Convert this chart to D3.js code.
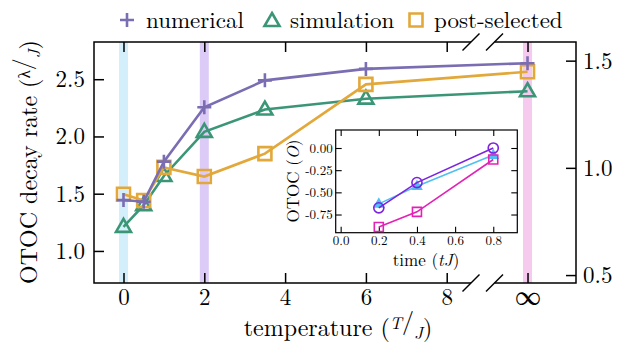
<!DOCTYPE html>
<html><head><meta charset="utf-8">
<script src="https://cdn.jsdelivr.net/npm/d3@7"></script>
<style>
body{margin:0;background:#fff}
svg{display:block}
</style>
</head><body>
<svg id="c" width="628" height="349"></svg>
<script>
// ---------- data ----------
const temps = [0, 0.5, 1, 2, 3.5, 6, "inf"];
const numerical = [1.445, 1.43, 1.78, 2.255, 2.49, 2.59, 2.64];
const simulation = [1.21, 1.40, 1.655, 2.04, 2.235, 2.33, 2.395];
const postSelected = [1.495, 1.44, 1.73, 1.65, 1.85, 2.455, 2.565];
const xTicks = [0, 2, 4, 6, 8, "inf"];
const xTickLabels = ["0", "2", "4", "6", "8", "\u221E"];
const leftTicks = [1.0, 1.5, 2.0, 2.5];
const rightTicks = [0.5, 1.0, 1.5];
const bandTemps = [0, 2, "inf"];
const seriesNames = ["numerical", "simulation", "post-selected"];

const insetTimes = [0.2, 0.4, 0.8];
const insetCircle = [-0.675, -0.39, 0.0];
const insetTriangle = [-0.63, -0.43, -0.08];
const insetSquare = [-0.89, -0.72, -0.13];
const insetXTicks = [0.0, 0.2, 0.4, 0.6, 0.8];
const insetYTicks = [0.0, -0.25, -0.5, -0.75];

// ---------- styles ----------
const FONT = "'Latin Modern Roman', 'Liberation Serif', serif";
const cNum = "#7a6db2", cSim = "#3b9677", cPost = "#e2a83a";
const bandColors = ["#d2effb", "#dccbf6", "#f6c9ee"];
const cCirc = "#7d22e0", cTri = "#4fc0f2", cSq = "#e322b5";
const INF = 10;
const xv = t => t === "inf" ? INF : t;

const svg = d3.select("#c");
const L = 94, R = 576, T = 42, B = 283, gapL = 471, gapR = 494.5;

const x = d3.scaleLinear().domain([-0.73, 11.2]).range([L, R]);
const y = d3.scaleLinear().domain([0.72, 2.825]).range([B, T]);
const y2 = d3.scaleLinear().domain([0.463, 1.587]).range([B, T]);

// bands
svg.append("g").selectAll("rect").data(bandTemps).join("rect")
  .attr("x", d => x(xv(d)) - 4.5).attr("width", 9)
  .attr("y", T).attr("height", B - T)
  .attr("fill", (d, i) => bandColors[i]);

// axes with inward ticks
const fmt1 = d3.format(".1f");
const gB = svg.append("g").attr("transform", `translate(0,${B})`)
  .call(d3.axisBottom(x).tickValues(xTicks.map(xv)).tickSize(-10).tickPadding(6)
    .tickFormat((d, i) => xTickLabels[i]));
const gT = svg.append("g").attr("transform", `translate(0,${T})`)
  .call(d3.axisTop(x).tickValues(xTicks.map(xv)).tickSize(-10).tickFormat(""));
const gL = svg.append("g").attr("transform", `translate(${L},0)`)
  .call(d3.axisLeft(y).tickValues(leftTicks).tickSize(-10).tickPadding(9).tickFormat(fmt1));
const gR = svg.append("g").attr("transform", `translate(${R},0)`)
  .call(d3.axisRight(y2).tickValues(rightTicks).tickSize(-10).tickPadding(7).tickFormat(fmt1));
[gB, gT, gL, gR].forEach(g => {
  g.select(".domain").remove();
  g.selectAll(".tick line").attr("stroke", "#000").attr("stroke-width", 1.5);
  g.selectAll("text").attr("font-size", 23);
});
gB.selectAll("text").attr("dy", "0.71em");
gB.selectAll(".tick").filter((d, i) => i === xTicks.length - 1).select("text")
  .attr("font-size", 26).attr("dy", "0.63em");

// frame with break
const frame = svg.append("g").attr("stroke", "#000").attr("stroke-width", 1.5).attr("fill", "none");
frame.append("path").attr("d", `M${gapL},${T}H${L}V${B}H${gapL}`);
frame.append("path").attr("d", `M${gapR},${T}H${R}V${B}H${gapR}`);
[gapL, gapR].forEach(cx => [T, B].forEach(cy => {
  frame.append("line").attr("x1", cx - 8.5).attr("y1", cy + 8.5).attr("x2", cx + 8.5).attr("y2", cy - 8.5);
}));

// series
const plus = "M-7,0H7M0,-7V7";
const tri = "M0,-8L7.5,5L-7.5,5Z";
const sq = "M-6.5,-6.5H6.5V6.5H-6.5Z";
const line = d3.line().x(d => x(xv(d[0]))).y(d => y(d[1]));
function series(vals, color, marker) {
  const pts = temps.map((t, i) => [t, vals[i]]);
  const g = svg.append("g");
  g.append("path").attr("d", line(pts)).attr("fill", "none").attr("stroke", color).attr("stroke-width", 2.6);
  g.selectAll("path.m").data(pts).join("path").attr("class", "m")
    .attr("transform", d => `translate(${x(xv(d[0]))},${y(d[1])})`)
    .attr("d", marker).attr("fill", "none").attr("stroke", color).attr("stroke-width", 2.6)
    .attr("stroke-linejoin", "miter");
}
series(simulation, cSim, tri);
series(postSelected, cPost, sq);
series(numerical, cNum, plus);

// legend
const leg = [[cNum, plus, 127, 146], [cSim, tri, 272, 290], [cPost, sq, 416, 434]];
leg.forEach((l, i) => {
  svg.append("path").attr("d", l[1]).attr("transform", `translate(${l[2]},${i === 1 ? 21 : 20})`)
    .attr("fill", "none").attr("stroke", l[0]).attr("stroke-width", 2.6);
  svg.append("text").attr("x", l[3]).attr("y", 28).attr("font-size", 23).text(seriesNames[i]);
});

// axis labels
const yl = svg.append("text").attr("transform", "translate(37,162) rotate(-90)")
  .attr("text-anchor", "middle").attr("font-size", 24);
yl.append("tspan").text("OTOC decay rate (");
yl.append("tspan").attr("font-size", 17).attr("dy", -7).text("\u03BB");
yl.append("tspan").attr("dy", 0).text("/");
yl.append("tspan").attr("font-size", 17).attr("font-style", "italic").attr("dy", 10).text("J");
yl.append("tspan").attr("dy", -3).text(")");

const xl = svg.append("text").attr("x", 338).attr("y", 336)
  .attr("text-anchor", "middle").attr("font-size", 24);
xl.append("tspan").text("temperature (");
xl.append("tspan").attr("font-size", 17).attr("font-style", "italic").attr("dy", -7).text("T");
xl.append("tspan").text("/");
xl.append("tspan").attr("font-size", 17).attr("font-style", "italic").attr("dy", 10).text("J");
xl.append("tspan").attr("dy", -3).text(")");

// ---------- inset ----------
const iL = 335.7, iR = 517.3, iT = 130, iB = 232.7;
const ix = d3.scaleLinear().domain([-0.026, 0.926]).range([iL, iR]);
const iy = d3.scaleLinear().domain([-0.955, 0.203]).range([iB, iT]);
svg.append("rect").attr("x", iL).attr("y", iT).attr("width", iR - iL).attr("height", iB - iT)
  .attr("fill", "#fff");
const fmt2 = d3.format(".2f");
const ib = svg.append("g").attr("transform", `translate(0,${iB})`)
  .call(d3.axisBottom(ix).tickValues(insetXTicks).tickSize(-6).tickPadding(3).tickFormat(d3.format(".1f")));
const it = svg.append("g").attr("transform", `translate(0,${iT})`)
  .call(d3.axisTop(ix).tickValues(insetXTicks).tickSize(-6).tickFormat(""));
const il = svg.append("g").attr("transform", `translate(${iL},0)`)
  .call(d3.axisLeft(iy).tickValues(insetYTicks).tickSize(-6).tickPadding(3).tickFormat(d => fmt2(d).replace("\u2212", "-")));
const ir = svg.append("g").attr("transform", `translate(${iR},0)`)
  .call(d3.axisRight(iy).tickValues(insetYTicks).tickSize(-6).tickFormat(""));
[ib, it, il, ir].forEach(g => {
  g.select(".domain").remove();
  g.selectAll(".tick line").attr("stroke", "#000").attr("stroke-width", 1.1);
  g.selectAll("text").attr("font-size", 13);
});
svg.append("rect").attr("x", iL).attr("y", iT).attr("width", iR - iL).attr("height", iB - iT)
  .attr("fill", "none").attr("stroke", "#000").attr("stroke-width", 1.2);

const iline = d3.line().x(d => ix(d[0])).y(d => iy(d[1]));
function iseries(vals, color, marker, fill) {
  const pts = insetTimes.map((t, i) => [t, vals[i]]);
  const g = svg.append("g");
  g.append("path").attr("d", iline(pts)).attr("fill", "none").attr("stroke", color).attr("stroke-width", 1.6);
  g.selectAll("path.m").data(pts).join("path").attr("class", "m")
    .attr("transform", d => `translate(${ix(d[0])},${iy(d[1])})`)
    .attr("d", marker).attr("fill", fill ? color : "none").attr("stroke", color).attr("stroke-width", 1.6);
}
iseries(insetTriangle, cTri, "M0,-5L4.5,3L-4.5,3Z", true);
iseries(insetCircle, cCirc, d3.symbol(d3.symbolCircle, 80)(), false);
iseries(insetSquare, cSq, "M-4.5,-4.5H4.5V4.5H-4.5Z", false);

const itl = svg.append("text").attr("x", 426).attr("y", 266).attr("text-anchor", "middle").attr("font-size", 17);
itl.append("tspan").text("time (");
itl.append("tspan").attr("font-style", "italic").text("tJ");
itl.append("tspan").text(")");
const iyl = svg.append("text").attr("transform", "translate(299,181) rotate(-90)")
  .attr("text-anchor", "middle").attr("font-size", 17);
iyl.append("tspan").text("OTOC (");
iyl.append("tspan").attr("font-style", "italic").text("O");
iyl.append("tspan").text(")");

// fonts: serif everywhere (axis groups default to sans-serif)
svg.selectAll("g").attr("font-family", null);
svg.selectAll("text").style("font-family", FONT).style("fill", "#000");
</script>
</body></html>
